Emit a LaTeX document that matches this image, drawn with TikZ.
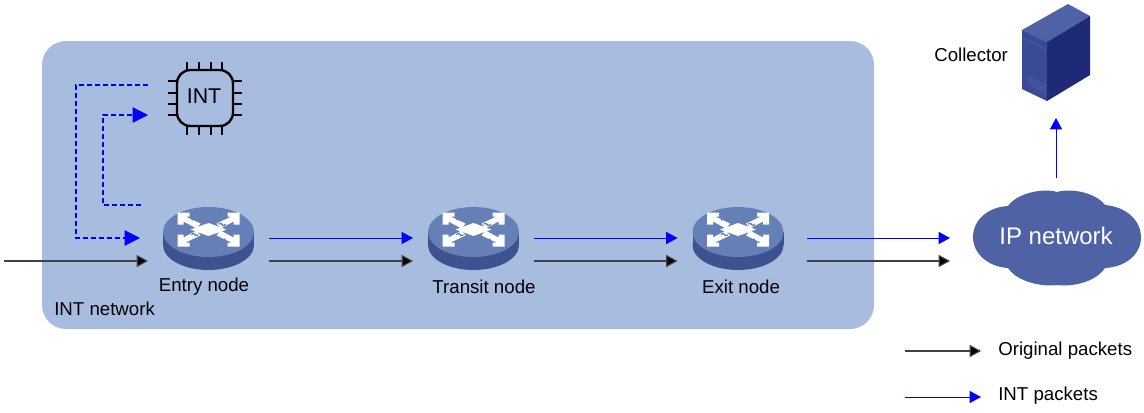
\documentclass[tikz,border=0pt]{standalone}
\usepackage{fontspec}
\setmainfont{Liberation Sans}
\usetikzlibrary{arrows.meta}

\definecolor{panelblue}{HTML}{A8BCDF}
\definecolor{cloudblue}{HTML}{4F62A6}
\definecolor{routertop}{HTML}{6580B6}
\definecolor{routerside}{HTML}{3E5290}
\definecolor{linkblue}{HTML}{0000FF}
\definecolor{serverfront}{HTML}{3A4A96}
\definecolor{serverside}{HTML}{1E2A78}

\tikzset{
  routerbox/.style={minimum width=90.75pt,minimum height=34.5pt,inner sep=0pt,outer sep=0pt},
  caption/.style={font=\fontsize{14}{16}\selectfont,inner sep=0pt},
  blacklink/.style={draw=black!75,line width=0.85pt,-{Triangle[length=8.5pt,width=9pt,fill=black]}},
  bluelink/.style={draw=linkblue,line width=0.75pt,-{Triangle[length=8.5pt,width=9pt,fill=linkblue]}},
  dashlink/.style={draw=linkblue,line width=1pt,dash pattern=on 3.5pt off 2.5pt,-{Triangle[length=11.5pt,width=11.5pt,fill=linkblue]}},
  router/.pic={
    \fill[routerside] (0,7) ellipse [x radius=45.5,y radius=25];
    \fill[routerside] (-45.5,-6) rectangle (45.5,7);
    \fill[routertop] (0,-6) ellipse [x radius=45.5,y radius=25];
    \foreach \sx/\sy in {1/1,-1/1,1/-1,-1/-1}{
      \fill[white,shift={(0,-8.5)},xscale=\sx,yscale=\sy]
        (-31,-17) -- (-19,-17) -- (-19,-13) -- (-23,-13) -- (-8,-6) -- (-12,-1)
        -- (-25,-8) -- (-25,-5) -- (-31,-5) -- cycle;
    }
    \fill[white] (0,-15) -- (18,-8.5) -- (0,-2) -- (-18,-8.5) -- cycle;
    \draw[routertop,line width=1pt] (-17,-18) .. controls (-10,-21) and (-7,-14) .. (0,-17);
    \draw[routertop,line width=1pt] (17,1) .. controls (10,4) and (7,-3) .. (0,0);
    \draw[routertop,line width=1pt] (-17,-3) .. controls (-13,-8) and (-15,0) .. (-10,-3);
    \draw[routertop,line width=1pt] (17,-14) .. controls (13,-9) and (15,-17) .. (10,-14);
  }
}

\begin{document}
\begin{tikzpicture}[x=0.75pt,y=-0.75pt]

  \useasboundingbox (0,0) rectangle (1144,412);
  \fill[white] (0,0) rectangle (1144,412);

  % network panel
  \fill[panelblue,rounded corners=18pt] (42,41) rectangle (874,329);
  \node[caption,anchor=west] (intnet) at (54,309) {INT network};

  % routers
  \node[routerbox] (entry) at (208.5,238) {};
  \node[routerbox] (transit) at (473.5,238) {};
  \node[routerbox] (exit) at (738,238) {};
  \pic at (entry) {router};
  \pic at (transit) {router};
  \pic at (exit) {router};
  \node[caption] (entrytext) at (204,287) {Entry node};
  \node[caption] (transittext) at (484,287) {Transit node};
  \node[caption] (exittext) at (741,287) {Exit node};

  % chip
  \foreach \p in {187,199,211,222}{
    \draw[black,line width=1.6pt] (\p,62) -- (\p,135);
  }
  \foreach \q in {81,93,104,115}{
    \draw[black,line width=1.6pt] (168,\q) -- (242,\q);
  }
  \draw[black,line width=1.8pt,fill=panelblue,rounded corners=10pt] (177,70) rectangle (233,126);
  \node[font=\fontsize{16}{18}\selectfont,inner sep=0pt] (chip) at (204,96) {INT};
  \coordinate (chipout) at (148,85);
  \coordinate (chipin) at (148,115);
  \coordinate (entryout) at (141,205);

  % cloud
  \fill[cloudblue] (1008,206) .. controls (1018,192) and (1045,188) .. (1057,192)
    .. controls (1070,188) and (1095,192) .. (1105,205)
    .. controls (1128,207) and (1141,222) .. (1141,237)
    .. controls (1141,255) and (1125,267) .. (1105,268)
    .. controls (1095,283) and (1070,287) .. (1057,285)
    .. controls (1045,287) and (1018,283) .. (1008,268)
    .. controls (990,267) and (973,255) .. (973,237)
    .. controls (973,220) and (988,207) .. (1008,206) -- cycle;
  \node[routerbox,minimum width=160.5pt] (cloud) at (1057,238) {};
  \node[font=\fontsize{18}{20}\selectfont,text=white,inner sep=0pt] (cloudtext) at (1056,236) {IP network};

  % collector
  \fill[cloudblue] (1068,4) -- (1090,16) -- (1047,42) -- (1022,30) -- cycle;
  \fill[serverfront] (1022,30) -- (1047,42) -- (1047,101) -- (1022,89) -- cycle;
  \fill[serverside] (1047,42) -- (1090,16) -- (1090,75) -- (1047,101) -- cycle;
  \draw[cloudblue,line width=0.4pt] (1023,38) -- (1046,50);
  \foreach \v in {0,2,4,6,8}{
    \draw[cloudblue,line width=0.4pt] (1028,76+\v) -- (1046,85+\v);
  }
  \node[caption,anchor=west] (collector) at (934,55) {Collector};
  \coordinate (collectorin) at (1056,118);
  \coordinate (collectorout) at (1056,178);

  % links
  \coordinate (start) at (4,261);
  \draw[blacklink] (start) -- (entry.south west);
  \draw[bluelink] (entry.east) -- (transit.west);
  \draw[blacklink] (entry.south east) -- (transit.south west);
  \draw[bluelink] (transit.east) -- (exit.west);
  \draw[blacklink] (transit.south east) -- (exit.south west);
  \draw[bluelink] ([xshift=6pt]exit.east) -- (cloud.west);
  \draw[blacklink] ([xshift=6pt]exit.south east) -- (cloud.south west);
  \draw[bluelink] (collectorout) -- (collectorin);
  \draw[dashlink] (chipout) -| (76,238) -- ([xshift=-6pt]entry.west);
  \draw[dashlink] (entryout) -| (103,115) -- (chipin);

  % legend
  \coordinate (keya) at (905,351);
  \coordinate (keyb) at (981,351);
  \coordinate (keyc) at (905,397);
  \coordinate (keyd) at (981,397);
  \draw[blacklink] (keya) -- (keyb);
  \draw[bluelink] (keyc) -- (keyd);
  \node[caption,anchor=west] (original) at (998,351) {Original packets};
  \node[caption,anchor=west] (intpackets) at (998,396) {INT packets};

\end{tikzpicture}
\end{document}
